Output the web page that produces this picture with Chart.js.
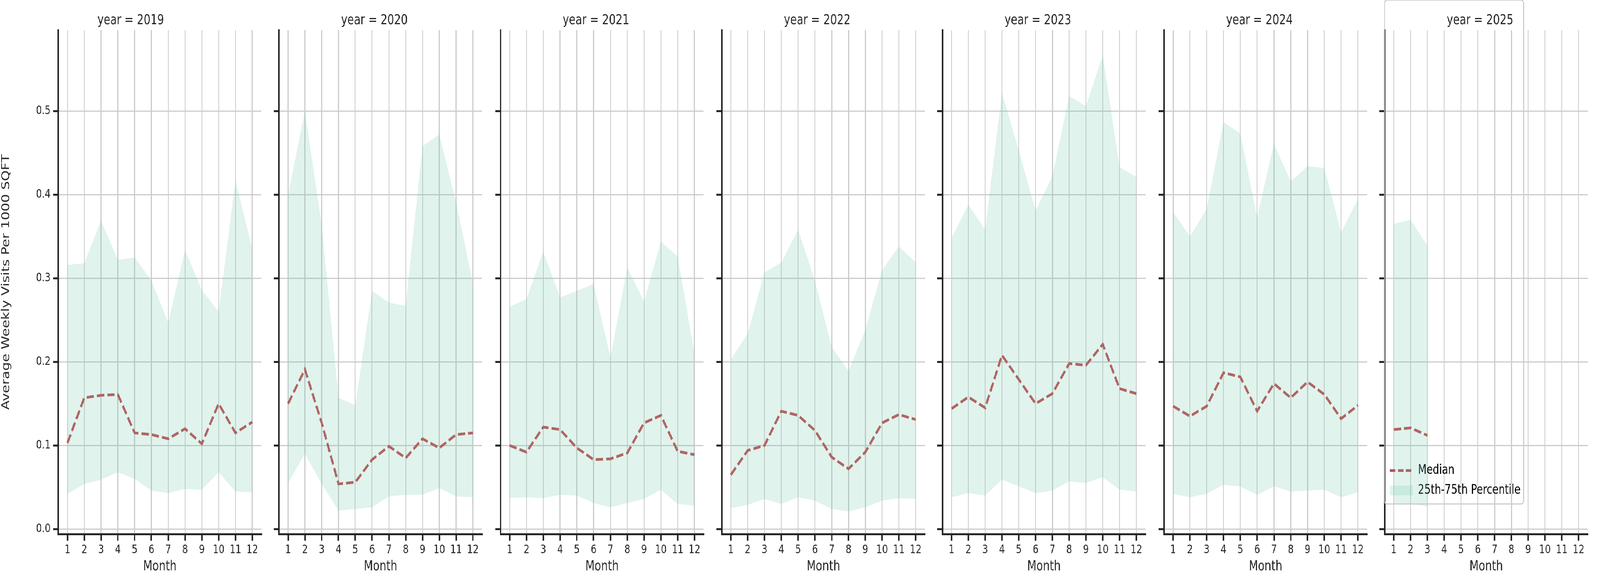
<!DOCTYPE html>
<html><head><meta charset="utf-8">
<script src="https://cdn.jsdelivr.net/npm/chart.js@4.4.1/dist/chart.umd.min.js"></script>
<style>html,body{margin:0;padding:0;background:#fff;overflow:hidden}#wrap{position:absolute;left:0;top:0;width:5250px;height:1500px;transform-origin:0 0}canvas{position:absolute;top:0}</style>
</head><body>
<div id="wrap"></div>
<script>
const years = [2019,2020,2021,2022,2023,2024,2025];
const months = [1,2,3,4,5,6,7,8,9,10,11,12];
const yTicks = [0,0.1,0.2,0.3,0.4,0.5];
const median2019 = [0.103,0.157,0.160,0.161,0.115,0.113,0.108,0.120,0.102,0.150,0.115,0.128];
const upper2019  = [0.316,0.318,0.369,0.322,0.325,0.297,0.247,0.334,0.286,0.260,0.417,0.335];
const lower2019  = [0.042,0.054,0.059,0.068,0.060,0.046,0.043,0.048,0.047,0.068,0.045,0.044];
const median2020 = [0.150,0.191,0.127,0.054,0.056,0.083,0.099,0.085,0.108,0.097,0.113,0.115];
const upper2020  = [0.400,0.500,0.364,0.157,0.148,0.285,0.271,0.267,0.458,0.472,0.391,0.294];
const lower2020  = [0.055,0.090,0.054,0.022,0.024,0.026,0.039,0.041,0.041,0.049,0.039,0.038];
const median2021 = [0.100,0.092,0.122,0.119,0.097,0.083,0.084,0.091,0.127,0.136,0.093,0.089];
const upper2021  = [0.266,0.275,0.332,0.277,0.285,0.293,0.205,0.313,0.272,0.344,0.326,0.210];
const lower2021  = [0.037,0.038,0.037,0.041,0.040,0.031,0.026,0.031,0.036,0.047,0.030,0.028];
const median2022 = [0.065,0.094,0.100,0.141,0.136,0.118,0.086,0.072,0.092,0.127,0.137,0.131];
const upper2022  = [0.203,0.234,0.307,0.319,0.358,0.297,0.218,0.189,0.238,0.310,0.338,0.319];
const lower2022  = [0.025,0.029,0.036,0.030,0.038,0.034,0.024,0.021,0.026,0.034,0.037,0.036];
const median2023 = [0.144,0.158,0.145,0.208,0.179,0.150,0.162,0.198,0.196,0.221,0.168,0.162];
const upper2023  = [0.348,0.388,0.358,0.522,0.453,0.381,0.422,0.518,0.506,0.567,0.433,0.421];
const lower2023  = [0.038,0.043,0.040,0.059,0.051,0.043,0.046,0.057,0.055,0.062,0.047,0.045];
const median2024 = [0.147,0.135,0.147,0.187,0.182,0.141,0.174,0.157,0.176,0.161,0.132,0.148];
const upper2024  = [0.379,0.350,0.383,0.487,0.473,0.373,0.461,0.416,0.434,0.432,0.355,0.395];
const lower2024  = [0.042,0.038,0.042,0.053,0.051,0.041,0.051,0.045,0.046,0.047,0.038,0.044];
const median2025 = [0.119,0.121,0.112];
const upper2025  = [0.365,0.370,0.339];
const lower2025  = [0.030,0.030,0.027];

const medians = [median2019,median2020,median2021,median2022,median2023,median2024,median2025];
const uppers = [upper2019,upper2020,upper2021,upper2022,upper2023,upper2024,upper2025];
const lowers = [lower2019,lower2020,lower2021,lower2022,lower2023,lower2024,lower2025];

const plotLefts = [191,915,1642,2368,3092,3819,4543];
const plotW = 667;
const FONT = "'DejaVu Sans', sans-serif";
const INK = '#262626';
const FILL = 'rgba(102,194,165,0.2)';
const RED = '#c44e52';

const wrap = document.getElementById('wrap');
function fit(){
  const sx = window.innerWidth / 5250, sy = window.innerHeight / 1500;
  wrap.style.transform = 'scale(' + sx + ',' + sy + ')';
}
fit();
window.addEventListener('resize', fit);

const legendBox = {
  id:'legendBox',
  afterDraw(chart){
    const l = chart.legend;
    if(!l || !l.options.display) return;
    const ctx = chart.ctx;
    ctx.save();
    ctx.strokeStyle = '#cccccc'; ctx.lineWidth = 3;
    ctx.beginPath(); ctx.roundRect(l.left, l.top, l.width, l.height, 8); ctx.stroke();
    ctx.restore();
  }
};

years.forEach((yr, i) => {
  const yW = i === 0 ? 191 : 40;
  const cv = document.createElement('canvas');
  const W = yW + plotW + 12;
  cv.width = W; cv.height = 1500;
  cv.style.left = (plotLefts[i] - yW) + 'px';
  cv.style.width = W + 'px'; cv.style.height = '1500px';
  wrap.appendChild(cv);
  const pts = arr => arr.map((v, k) => ({x: months[k], y: v}));
  const last = i === years.length - 1;
  new Chart(cv, {
    type: 'line',
    data: { datasets: [
      { label: 'lower', data: pts(lowers[i]), borderWidth: 0, pointRadius: 0, fill: false, borderColor: 'rgba(0,0,0,0)' },
      { label: '25th-75th Percentile', data: pts(uppers[i]), borderWidth: 0, pointRadius: 0, fill: '-1', backgroundColor: FILL, borderColor: 'rgba(0,0,0,0)' },
      { label: 'Median', data: pts(medians[i]), borderColor: RED, borderWidth: 7, borderDash: [24, 10], pointRadius: 0, fill: false }
    ]},
    options: {
      responsive: false, animation: false, devicePixelRatio: 1,
      layout: { padding: { right: 12, left: 0, top: 0, bottom: 0 } },
      plugins: {
        title: { display: true, text: 'year = ' + yr, color: INK, font: { family: FONT, size: 35, weight: 'normal' }, padding: { top: 32, bottom: 3 } },
        tooltip: { enabled: false },
        legend: {
          display: last, position: 'chartArea', align: 'end', maxWidth: 480,
          labels: {
            color: INK, font: { family: FONT, size: 33 }, usePointStyle: true, padding: 18,
            generateLabels: () => [
              { text: 'Median', pointStyle: 'line', strokeStyle: RED, fillStyle: RED, lineWidth: 7, lineDash: [18, 8], datasetIndex: 2 },
              { text: '25th-75th Percentile', pointStyle: 'rect', fillStyle: FILL, strokeStyle: FILL, lineWidth: 0, datasetIndex: 1 }
            ],
            pointStyleWidth: 75, boxHeight: 25
          }
        }
      },
      scales: {
        x: {
          type: 'linear', min: 0.45, max: 12.55,
          afterBuildTicks: s => { s.ticks = months.map(v => ({ value: v })); },
          afterFit: s => { s.height = 133; },
          grid: { color: '#cccccc', lineWidth: 3, tickColor: INK, tickWidth: 5, tickLength: 17 },
          border: { display: true, color: INK, width: 5 },
          ticks: { color: INK, font: { family: FONT, size: 30 }, padding: 6, maxRotation: 0, autoSkip: false },
          title: { display: true, text: 'Month', color: INK, font: { family: FONT, size: 35 }, padding: { top: 0, bottom: 28 } }
        },
        y: {
          min: -0.006, max: 0.597,
          afterBuildTicks: s => { s.ticks = yTicks.map(v => ({ value: v })); },
          afterFit: s => { s.width = yW; },
          grid: { color: '#cccccc', lineWidth: 3, tickColor: INK, tickWidth: 5, tickLength: 17 },
          border: { display: true, color: INK, width: 5 },
          ticks: { color: INK, font: { family: FONT, size: 30 }, padding: 8, callback: v => i === 0 ? v.toFixed(1) : '' },
          title: { display: i === 0, text: 'Average Weekly Visits Per 1000 SQFT', color: INK, font: { family: FONT, size: 35 }, padding: { top: 0, bottom: 6 } }
        }
      }
    },
    plugins: [legendBox]
  });
});
</script>
</body></html>
